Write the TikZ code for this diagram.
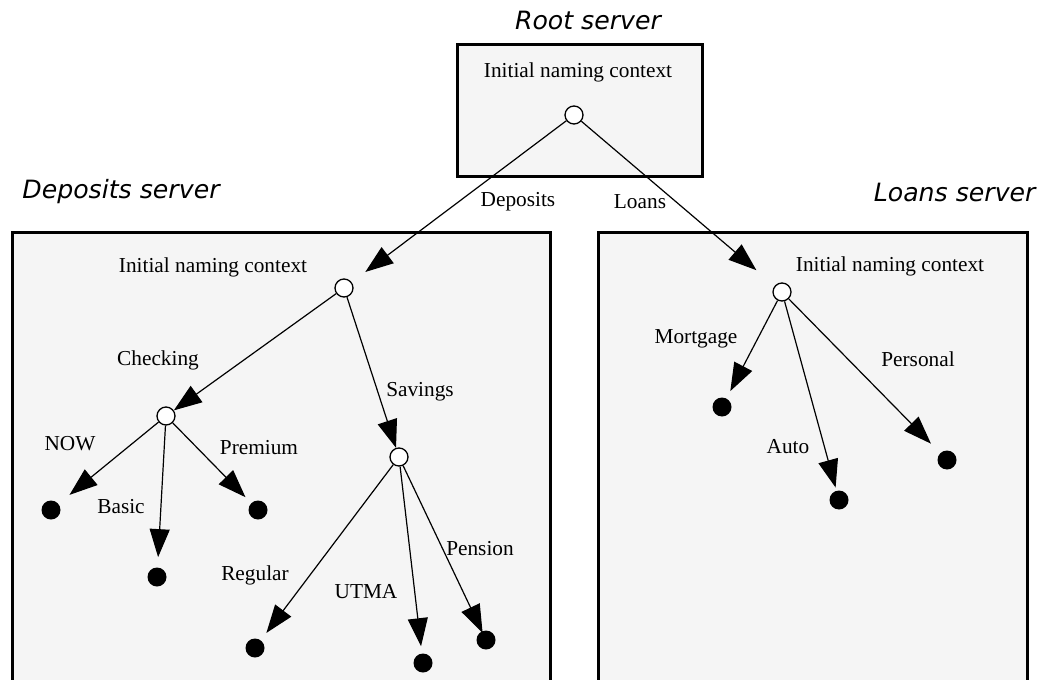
\documentclass[tikz,border=0pt]{standalone}
\usepackage{fontspec}
\setmainfont{Liberation Serif}
\newfontfamily\srvfont{DejaVu Sans}
\usetikzlibrary{arrows.meta}
\definecolor{boxgray}{RGB}{245,245,245}
\tikzset{
  serverbox/.style={draw=black, line width=1.5pt, fill=boxgray},
  srvtitle/.style={font=\srvfont\itshape\fontsize{12.6}{14}\selectfont, inner sep=0pt},
  lbl/.style={font=\fontsize{10.65}{12}\selectfont, inner sep=0pt},
  hollow/.style={circle, draw=black, fill=white, line width=0.65pt, minimum size=9pt, inner sep=0pt},
  leaf/.style={circle, fill=black, minimum size=9.5pt, inner sep=0pt},
  arr/.style={line width=0.6pt, -{Triangle[length=14pt, width=10pt]}}
}
\begin{document}
\begin{tikzpicture}[x=0.5pt, y=-0.5pt]
\useasboundingbox (0,0) rectangle (1053,679);
% server boxes
\draw[serverbox] (457,45) rectangle (702,177);
\draw[serverbox] (12,232) rectangle (550,720);
\draw[serverbox] (598,232) rectangle (1027,720);
% titles
\node[srvtitle] (troot) at (588,20) {Root server};
\node[srvtitle, anchor=west] (tdep) at (22,192) {Deposits server};
\node[srvtitle, anchor=east] (tloan) at (1036,192) {Loans server};
% context labels
\node[lbl] (lroot) at (578,72) {Initial naming context};
\node[lbl] (ldep) at (213,267) {Initial naming context};
\node[lbl] (lloan) at (890,266) {Initial naming context};
% edge labels
\node[lbl] (lDeposits) at (518,202) {Deposits};
\node[lbl] (lLoans) at (640,202) {Loans};
\node[lbl] (lChecking) at (158,360) {Checking};
\node[lbl] (lSavings) at (420,392) {Savings};
\node[lbl] (lNOW) at (70,444) {NOW};
\node[lbl] (lBasic) at (121,507) {Basic};
\node[lbl] (lPremium) at (259,448) {Premium};
\node[lbl] (lRegular) at (255,575) {Regular};
\node[lbl] (lUTMA) at (366,592) {UTMA};
\node[lbl] (lPension) at (480,549) {Pension};
\node[lbl] (lMortgage) at (696,339) {Mortgage};
\node[lbl] (lAuto) at (788,447) {Auto};
\node[lbl] (lPersonal) at (918,359) {Personal};
% context nodes
\node[hollow] (root) at (574,115) {};
\node[hollow] (dep) at (344,288) {};
\node[hollow] (loan) at (782,292) {};
\node[hollow] (chk) at (166,416) {};
\node[hollow] (sav) at (399,457) {};
% leaves
\node[leaf] (now) at (51,510) {};
\node[leaf] (basic) at (157,577) {};
\node[leaf] (prem) at (258,510) {};
\node[leaf] (reg) at (255,648) {};
\node[leaf] (utma) at (423,663) {};
\node[leaf] (pens) at (486,640) {};
\node[leaf] (mort) at (722,407) {};
\node[leaf] (auto) at (839,500) {};
\node[leaf] (pers) at (947,460) {};
% connectors
\draw[arr, shorten >=8.5pt] (root) -- (dep);
\draw[arr, shorten >=12pt] (root) -- (loan);
\draw[arr] (dep) -- (chk);
\draw[arr] (dep) -- (sav);
\draw[arr, shorten >=7pt] (chk) -- (now);
\draw[arr, shorten >=5pt] (chk) -- (basic);
\draw[arr, shorten >=4pt] (chk) -- (prem);
\draw[arr, shorten >=4.5pt] (sav) -- (reg);
\draw[arr, shorten >=3.5pt] (sav) -- (utma);
\draw[arr, shorten >=-1pt] (sav) -- (pens);
\draw[arr, shorten >=4pt] (loan) -- (mort);
\draw[arr, shorten >=1.5pt] (loan) -- (auto);
\draw[arr, shorten >=6.5pt] (loan) -- (pers);
\end{tikzpicture}
\end{document}
